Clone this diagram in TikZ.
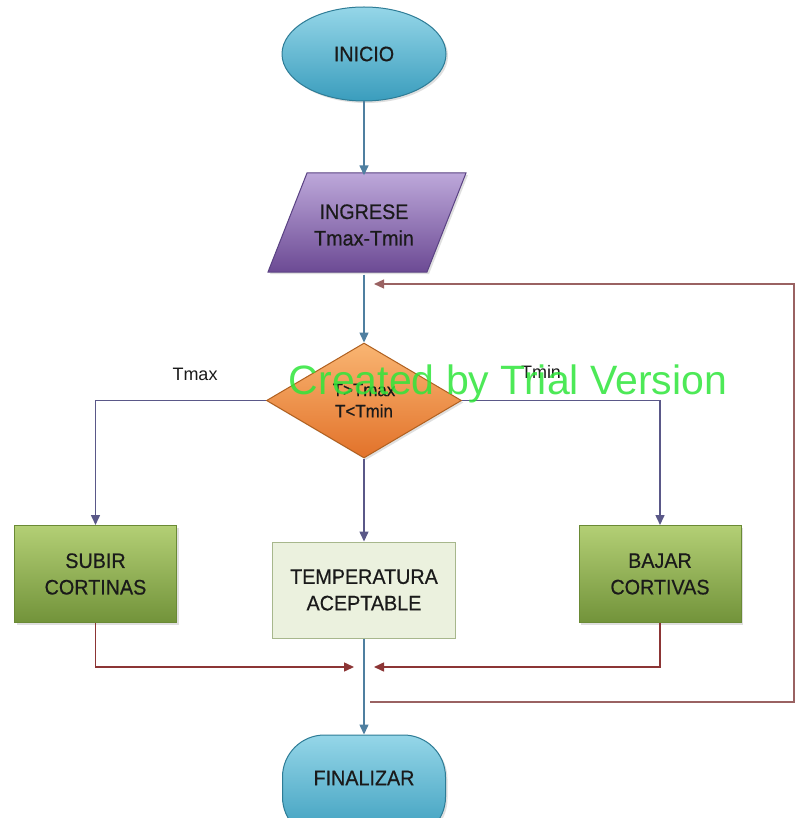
\documentclass[tikz,border=0pt]{standalone}
\usepackage{fontspec}
\setmainfont{Liberation Sans}
\newfontfamily\boxfont{Liberation Sans}[FakeStretch=0.94,FakeBold=0.5]
\usetikzlibrary{shapes.geometric,arrows.meta,shadows}
\definecolor{arrblue}{HTML}{4F7FA0}
\definecolor{arrpur}{HTML}{5A5888}
\definecolor{arrred}{HTML}{8C3535}
\definecolor{loopred}{HTML}{9A6262}
\definecolor{bluetop}{HTML}{95D6E8}
\definecolor{bluebot}{HTML}{3A9DBD}
\definecolor{blueedge}{HTML}{2E7C96}
\definecolor{purtop}{HTML}{BDA8DA}
\definecolor{purbot}{HTML}{6C4A94}
\definecolor{puredge}{HTML}{5A4283}
\definecolor{ortop}{HTML}{F9B572}
\definecolor{orbot}{HTML}{E2722A}
\definecolor{oredge}{HTML}{B0601F}
\definecolor{grtop}{HTML}{B3CF75}
\definecolor{grbot}{HTML}{72933A}
\definecolor{gredge}{HTML}{6A8A35}
\definecolor{paleg}{HTML}{EBF1DE}
\definecolor{paleedge}{HTML}{A7B78C}
\definecolor{wmgreen}{HTML}{2EE63A}
\definecolor{txt}{HTML}{1A1A1A}
\tikzset{
  conn/.style={line width=1.5pt},
  bluearr/.style={conn, draw=arrblue, -{Triangle[length=10pt,width=9pt]}},
  purarr/.style={conn, draw=arrpur, -{Triangle[length=10pt,width=9pt]}},
  redarr/.style={conn, draw=arrred, -{Triangle[length=10pt,width=9pt]}},
  looparr/.style={line width=1.2pt, draw=loopred, -{Triangle[length=10pt,width=9pt]}},
  nodetxt/.style={text=txt, font=\boxfont\fontsize{21}{26.5}\selectfont, align=center},
  shade/.style={drop shadow={shadow xshift=2pt, shadow yshift=-2pt, opacity=0.25}},
  terminal/.style={nodetxt, shade, draw=blueedge, line width=1pt, top color=bluetop, bottom color=bluebot},
  greenbox/.style={nodetxt, shade, rectangle, draw=gredge, line width=1pt, top color=grtop, bottom color=grbot, minimum width=162pt, minimum height=97pt, inner sep=0pt},
  palebox/.style={nodetxt, rectangle, draw=paleedge, line width=1pt, fill=paleg, minimum width=183pt, minimum height=96pt, inner sep=0pt},
  decision/.style={nodetxt, shade, diamond, draw=oredge, line width=1pt, top color=ortop, bottom color=orbot, minimum width=195pt, minimum height=115pt, inner sep=0pt, font=\boxfont\fontsize{18}{22}\selectfont},
  lbl/.style={text=txt, font=\fontsize{18}{22}\selectfont}
}
\begin{document}
\begin{tikzpicture}[x=1pt,y=-1pt]
\clip (0,0) rectangle (795,818);
\fill[white] (0,0) rectangle (795,818);

% start
\node[terminal, ellipse, minimum width=164pt, minimum height=94pt, inner sep=0pt] (inicio) at (364,54) {INICIO};

% input parallelogram
\path[shade, draw=puredge, line width=1pt, top color=purtop, bottom color=purbot]
  (307,173) -- (466,173) -- (427,272) -- (268,272) -- cycle;
\node[nodetxt, minimum width=150pt, minimum height=99pt, inner sep=0pt] (ingrese) at (364,225) {INGRESE\\Tmax-Tmin};

% decision
\node[decision] (dec) at (364,400.5) {\raisebox{-10pt}{\shortstack{T>Tmax\\[5pt]T<Tmin}}};

% action boxes
\node[greenbox] (subir) at (95.5,574) {SUBIR\\CORTINAS};
\node[palebox] (temp) at (364,590) {TEMPERATURA\\ACEPTABLE};
\node[greenbox] (bajar) at (660,574) {BAJAR\\CORTIVAS};

% end
\node[terminal, rectangle, rounded corners=42pt, minimum width=163pt, minimum height=104pt, inner sep=0pt] (fin) at (364,787) {};
\node[nodetxt] (fintxt) at (364,778) {FINALIZAR};

% labels
\node[lbl] (tmaxl) at (195,374) {Tmax};
\node[lbl] (tminl) at (541,372) {Tmin};

% connectors
\draw[bluearr] (inicio.south) -- (ingrese.north);
\draw[bluearr] (ingrese.south) -- (dec.north);
\draw[purarr] (dec.west) -| (subir.north);
\draw[purarr] (dec.east) -| (bajar.north);
\draw[purarr] (dec.south) -- (temp.north);
\coordinate (mL) at (354,667);
\coordinate (mR) at (374,667);
\draw[redarr] (subir.south) |- (mL);
\draw[redarr] (bajar.south) |- (mR);
\draw[bluearr] (temp.south) -- (fin.north);

% loop back
\coordinate (lb) at (370,702);
\coordinate (rb) at (794,702);
\coordinate (rt) at (794,284);
\coordinate (lt) at (374,284);
\draw[looparr] (lb) -- (rb) -- (rt) -- (lt);

% watermark
\node[text=wmgreen, opacity=0.85, font=\fontsize{41}{48}\selectfont, anchor=base, inner sep=0pt] (wm) at (508,394) {Created by Trial Version};
\end{tikzpicture}
\end{document}
